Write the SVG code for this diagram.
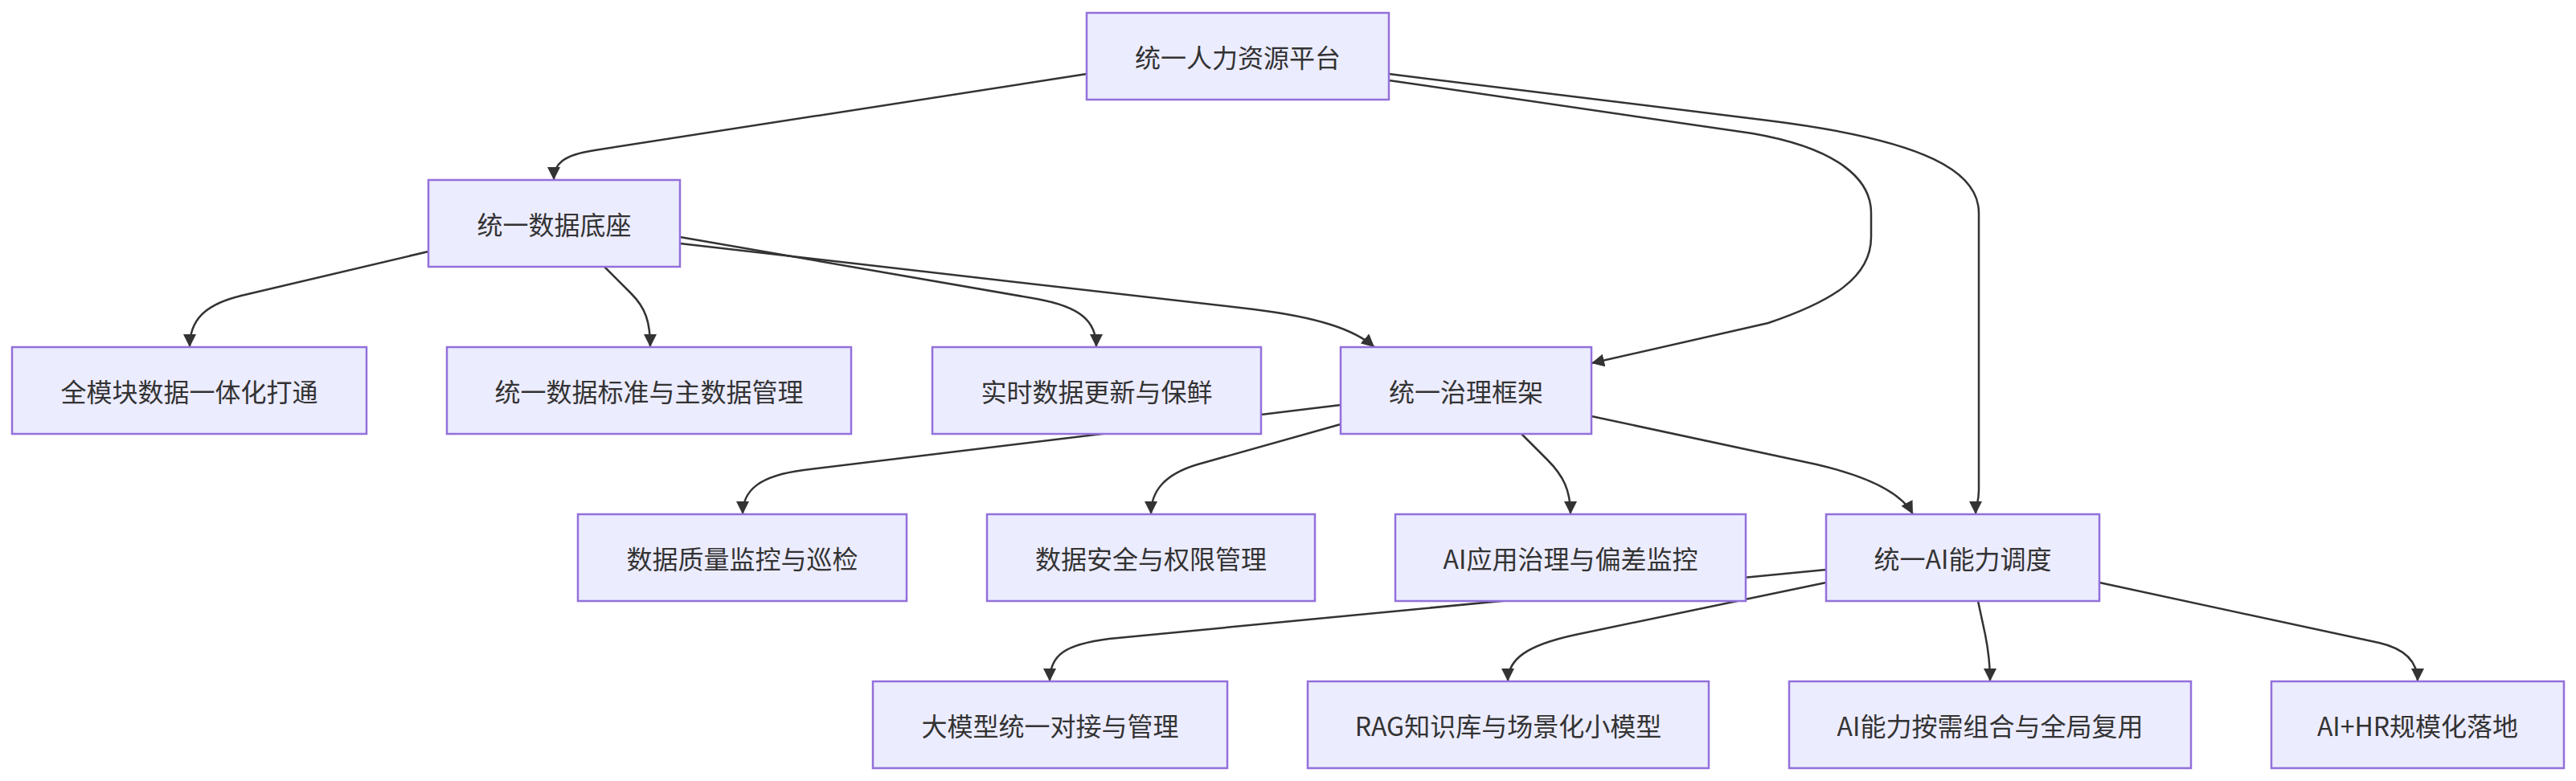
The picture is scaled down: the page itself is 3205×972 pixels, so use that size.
<svg xmlns="http://www.w3.org/2000/svg" width="3205" height="972" viewBox="0 0 3205 972">
<style>
.node rect{fill:#ECECFF;stroke:#9370DB;stroke-width:2.5}
.node text{font-family:"Noto Sans CJK SC","Noto Sans",sans-serif;font-size:32px;fill:#333;text-anchor:middle;dominant-baseline:central}
.edges path{fill:none;stroke:#333;stroke-width:2.5;marker-end:url(#arrow)}
</style>
<defs>
<marker id="arrow" viewBox="0 0 10 10" markerUnits="userSpaceOnUse" markerWidth="16" markerHeight="16" refX="10" refY="5" orient="auto">
<path d="M0,0 L10,5 L0,10 z" fill="#333"/>
</marker>
</defs>
<rect width="3205" height="972" fill="#fff"/>
<g class="edges">
<path d="M1352,92 L740,187 C700,193 689,204 689,224"/>
<path d="M1728,100 L2180,166 C2290,185 2328,225 2328,265 L2328,295 C2328,345 2280,375 2200,402 L1980,452"/>
<path d="M1728,92 L2200,150 C2400,175 2462,215 2462,265 L2462,610 C2462,625 2458,630 2458,640"/>
<path d="M533,313 L300,368 C255,379 236,398 236,432"/>
<path d="M752,332 L785,365 C803,383 809,400 809,432"/>
<path d="M846,295 L1290,372 C1345,382 1364,400 1364,432"/>
<path d="M846,303 L1560,385 C1640,395 1685,410 1710,432"/>
<path d="M1668,504 L1000,585 C945,592 924,610 924,640"/>
<path d="M1668,528 L1490,578 C1450,590 1432,610 1432,640"/>
<path d="M1893,540 L1925,572 C1945,592 1954,610 1954,640"/>
<path d="M1980,518 L2260,578 C2320,592 2365,612 2380,640"/>
<path d="M2272,709 L1380,795 C1325,802 1306,815 1306,848"/>
<path d="M2272,725 L1960,790 C1900,803 1876,820 1876,848"/>
<path d="M2461,748 L2470,790 C2474,810 2476,825 2476,848"/>
<path d="M2612,725 L2960,800 C2995,808 3008,825 3008,848"/>
</g>
<g id="A" class="node"><rect x="1352" y="16" width="376" height="108"/><text x="1540" y="70">统一人力资源平台</text></g>
<g id="B" class="node"><rect x="533" y="224" width="313" height="108"/><text x="689.5" y="278">统一数据底座</text></g>
<g id="C" class="node"><rect x="15" y="432" width="441" height="108"/><text x="235.5" y="486">全模块数据一体化打通</text></g>
<g id="D" class="node"><rect x="556" y="432" width="503" height="108"/><text x="807.5" y="486">统一数据标准与主数据管理</text></g>
<g id="E" class="node"><rect x="1160" y="432" width="409" height="108"/><text x="1364.5" y="486">实时数据更新与保鲜</text></g>
<g id="F" class="node"><rect x="1668" y="432" width="312" height="108"/><text x="1824" y="486">统一治理框架</text></g>
<g id="G" class="node"><rect x="719" y="640" width="409" height="108"/><text x="923.5" y="694">数据质量监控与巡检</text></g>
<g id="H" class="node"><rect x="1228" y="640" width="408" height="108"/><text x="1432" y="694">数据安全与权限管理</text></g>
<g id="I" class="node"><rect x="1736" y="640" width="436" height="108"/><text x="1954" y="694">AI应用治理与偏差监控</text></g>
<g id="J" class="node"><rect x="2272" y="640" width="340" height="108"/><text x="2442" y="694">统一AI能力调度</text></g>
<g id="K" class="node"><rect x="1086" y="848" width="441" height="108"/><text x="1306.5" y="902">大模型统一对接与管理</text></g>
<g id="L" class="node"><rect x="1627" y="848" width="499" height="108"/><text x="1876.5" y="902">RAG知识库与场景化小模型</text></g>
<g id="M" class="node"><rect x="2226" y="848" width="500" height="108"/><text x="2476" y="902">AI能力按需组合与全局复用</text></g>
<g id="N" class="node"><rect x="2826" y="848" width="364" height="108"/><text x="3008" y="902">AI+HR规模化落地</text></g>
</svg>
